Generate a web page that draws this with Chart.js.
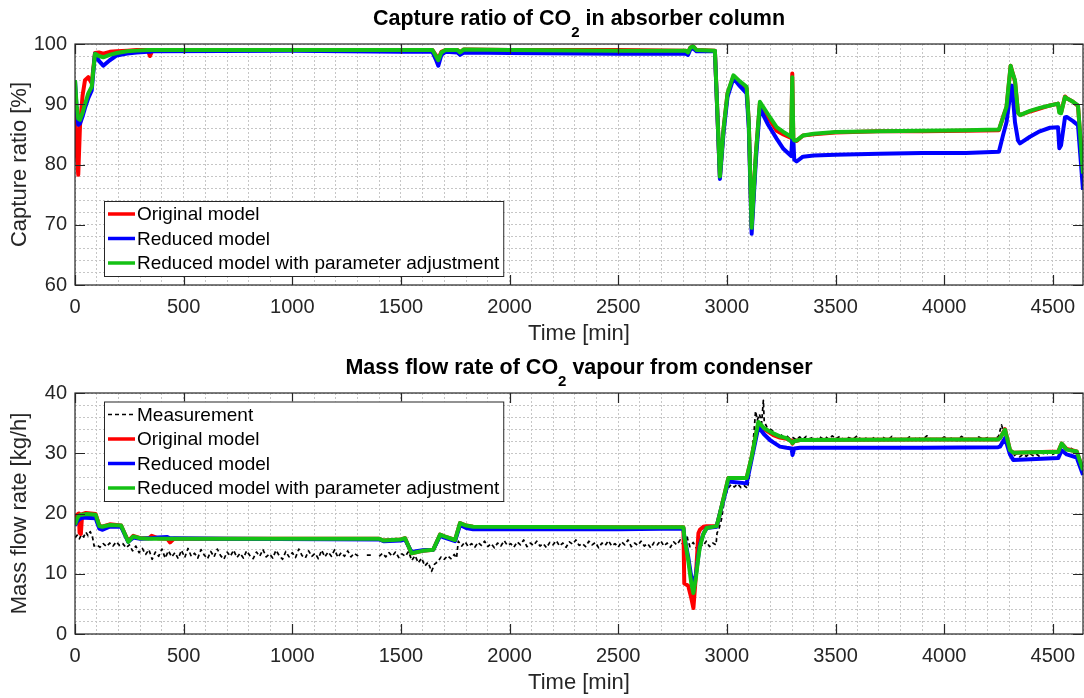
<!DOCTYPE html>
<html>
<head>
<meta charset="utf-8">
<title>CO2 capture plant: model comparison</title>
<script src="https://cdn.jsdelivr.net/npm/chart.js@4.4.1/dist/chart.umd.min.js"></script>
<style>
  body { margin: 0; background: #fff; }
  canvas { display: block; }
</style>
</head>
<body>
<canvas id="captureChart" width="1084" height="349"></canvas>
<canvas id="flowChart" width="1084" height="349"></canvas>
<script>
// ---- Capture ratio in absorber column [%] ----
const capTime = [0, 8, 15, 23, 35, 46, 61, 77, 92, 110, 130, 160, 192, 240, 284, 335, 345, 357,
  1000, 1500, 1645, 1660, 1672, 1686, 1705, 1760, 1772, 1790, 2000, 2500, 2810, 2821, 2832, 2845,
  2860, 2945, 2968, 2985, 3003, 3030, 3060, 3091, 3101, 3114, 3134, 3152, 3190, 3229, 3260, 3296,
  3301, 3306, 3310, 3321, 3350, 3400, 3500, 3700, 3900, 4100, 4252, 4272, 4287, 4306, 4312, 4326,
  4340, 4349, 4395, 4440, 4487, 4524, 4530, 4538, 4556, 4564, 4593, 4616, 4639];
const capOriginal = [90.0, 82.0, 78.3, 86.5, 91.5, 94.0, 94.5, 93.5, 98.5, 98.6, 98.4, 98.7, 98.8, 98.9, 99.0, 99.0, 98.0, 99.0,
  99.0, 99.0, 99.0, 98.2, 97.5, 98.7, 99.0, 99.0, 98.6, 99.1, 99.0, 99.0, 98.9, 98.6, 99.4, 99.6,
  99.0, 98.9, 78.0, 86.0, 91.8, 94.6, 93.6, 92.6, 87.0, 69.5, 82.0, 90.2, 87.8, 85.6, 85.0, 84.4,
  95.1, 84.3, 84.0, 83.9, 84.8, 85.0, 85.3, 85.5, 85.5, 85.6, 85.7, 88.0, 89.5, 96.4, 95.6, 93.8,
  88.6, 88.2, 88.8, 89.3, 89.8, 90.1, 88.8, 88.6, 91.3, 91.0, 90.4, 89.7, 78.6];
const capReduced = [94.0, 88.8, 86.6, 86.8, 88.0, 89.4, 91.0, 92.3, 98.4, 97.2, 96.4, 97.3, 98.1, 98.4, 98.6, 98.7, 98.7, 98.8,
  98.9, 98.7, 98.7, 97.5, 96.4, 98.2, 98.7, 98.6, 98.2, 98.6, 98.5, 98.4, 98.4, 98.2, 99.1, 99.3,
  98.8, 98.8, 77.6, 85.4, 91.2, 94.3, 93.0, 91.8, 86.0, 68.5, 81.0, 89.3, 86.6, 84.3, 82.6, 81.4,
  84.4, 84.2, 80.8, 80.5, 81.3, 81.5, 81.6, 81.8, 81.9, 81.9, 82.1, 85.0, 87.0, 92.2, 93.1, 87.0,
  84.0, 83.5, 84.6, 85.5, 86.1, 86.2, 82.7, 83.2, 87.8, 87.9, 87.2, 86.5, 75.8];
const capAdjusted = [94.0, 89.5, 87.6, 87.4, 88.6, 90.0, 91.8, 92.9, 98.4, 98.0, 97.8, 98.2, 98.5, 98.8, 98.9, 99.0, 99.0, 99.0,
  99.0, 99.0, 99.0, 98.1, 97.3, 98.6, 99.0, 99.0, 98.6, 99.1, 99.0, 98.9, 98.9, 98.6, 99.4, 99.6,
  99.0, 98.9, 78.0, 86.0, 91.8, 94.8, 93.8, 92.9, 87.0, 69.5, 82.0, 90.4, 88.3, 86.2, 85.4, 84.6,
  94.5, 84.3, 84.0, 84.0, 84.8, 85.1, 85.4, 85.5, 85.6, 85.7, 85.8, 87.9, 89.6, 96.4, 95.5, 94.0,
  88.6, 88.2, 88.9, 89.4, 89.8, 90.1, 88.6, 88.5, 91.2, 91.0, 90.4, 89.8, 78.5];

// ---- Mass flow rate of CO2 vapour from condenser [kg/h] ----
const flowTime = [0, 10, 18, 21, 27, 33, 50, 95, 112, 125, 160, 212, 245, 268, 300, 340, 353, 380,
  425, 437, 455, 700, 1400, 1420, 1500, 1519, 1549, 1600, 1649, 1680, 1700, 1749, 1772, 1800, 1832,
  2500, 2800, 2804, 2822, 2836, 2846, 2858, 2869, 2876, 2892, 2907, 2953, 2968, 3007, 3091, 3114,
  3145, 3170, 3198, 3214, 3244, 3275, 3298, 3302, 3310, 3336, 3900, 4249, 4257, 4280, 4303, 4318,
  4450, 4525, 4541, 4564, 4610, 4639];
const flowOriginal = [18.3, 19.8, 20.0, 16.8, 16.6, 19.9, 20.1, 19.9, 18.0, 17.8, 18.2, 18.0, 15.4, 16.3, 15.9, 15.9, 16.3, 15.9,
  15.8, 15.2, 15.8, 15.8, 15.8, 15.5, 15.7, 15.9, 13.4, 13.8, 14.0, 16.5, 16.2, 15.6, 18.4, 18.0, 17.8,
  17.7, 17.7, 8.4, 8.0, 6.0, 4.3, 10.0, 16.7, 17.3, 17.8, 17.9, 17.9, 20.0, 25.9, 25.9, 29.4,
  35.0, 34.0, 33.4, 33.0, 32.6, 32.4, 32.1, 31.6, 32.0, 32.2, 32.3, 32.3, 32.5, 34.0, 30.5, 30.1,
  30.2, 30.3, 31.6, 30.7, 30.3, 27.2];
const flowReduced = [18.0, 18.7, 19.0, 19.1, 19.2, 19.3, 19.3, 19.2, 17.5, 17.3, 17.8, 17.8, 15.3, 16.0, 15.8, 15.9, 15.9, 16.0,
  16.1, 15.9, 15.9, 15.8, 15.7, 15.4, 15.5, 15.7, 13.6, 13.9, 14.0, 16.3, 16.0, 15.4, 18.1, 17.6, 17.4,
  17.4, 17.5, 16.2, 12.8, 9.5, 7.9, 10.0, 13.0, 14.8, 16.6, 17.6, 17.8, 20.0, 25.3, 25.0, 29.0,
  34.4, 33.2, 32.2, 31.8, 31.1, 30.9, 30.8, 29.7, 30.8, 30.9, 30.9, 31.0, 31.1, 32.5, 29.8, 28.9,
  29.1, 29.2, 30.5, 29.8, 29.3, 26.4];
const flowAdjusted = [18.1, 19.2, 19.6, 19.7, 19.8, 19.8, 19.9, 19.8, 17.9, 17.8, 18.1, 18.0, 15.3, 16.2, 15.9, 15.8, 15.8, 15.8,
  15.8, 15.8, 15.8, 15.8, 15.8, 15.5, 15.7, 15.9, 13.4, 13.8, 14.0, 16.5, 16.2, 15.6, 18.4, 18.0, 17.8,
  17.7, 17.7, 16.2, 12.3, 8.5, 6.8, 9.5, 12.8, 14.5, 16.6, 17.6, 17.9, 20.0, 25.9, 25.9, 29.4,
  35.2, 34.2, 33.6, 33.3, 32.8, 32.5, 31.9, 31.7, 32.0, 32.2, 32.3, 32.3, 32.5, 33.9, 30.5, 30.1,
  30.2, 30.2, 31.6, 30.6, 30.3, 27.2];

// plant measurement (null = no data logged)
const measTime = [0, 10, 20, 30, 40, 50, 60, 70, 80, 88, 100, 115, 130, 145, 160, 175, 190, 205, 220, 235,
  250, 265, 280, 295, 310, 325, 340, 355, 370, 385, 400, 415, 430, 445, 460, 475, 490, 505, 520, 535,
  550, 565, 580, 595, 610, 625, 640, 655, 670, 685, 700, 715, 730, 745, 760, 775, 790, 805, 820, 835,
  850, 865, 880, 895, 910, 925, 940, 955, 970, 985, 1000, 1015, 1030, 1045, 1060, 1075, 1090, 1105, 1120, 1135,
  1150, 1165, 1180, 1195, 1210, 1225, 1240, 1255, 1270, 1285, 1300, 1312, 1320, 1343, 1372, 1380, 1400, 1415, 1430, 1445,
  1460, 1475, 1490, 1505, 1520, 1535, 1550, 1565, 1580, 1595, 1610, 1625, 1641, 1655, 1670, 1685, 1700, 1715, 1730, 1745,
  1756, 1764, 1780, 1795, 1810, 1825, 1840, 1855, 1870, 1885, 1900, 1915, 1930, 1945, 1960, 1975, 1990, 2005, 2020, 2035,
  2050, 2065, 2080, 2095, 2110, 2125, 2140, 2155, 2170, 2185, 2200, 2215, 2230, 2245, 2260, 2275, 2290, 2305, 2320, 2335,
  2350, 2365, 2380, 2395, 2410, 2425, 2440, 2455, 2470, 2485, 2500, 2515, 2530, 2545, 2560, 2575, 2590, 2605, 2620, 2635,
  2650, 2665, 2680, 2695, 2710, 2725, 2740, 2755, 2770, 2785, 2800, 2815, 2830, 2845, 2860, 2875, 2890, 2905, 2920, 2935,
  2950, 2955, 2962, 2975, 2990, 3005, 3020, 3035, 3050, 3065, 3080, 3095, 3105, 3115, 3125, 3132, 3140, 3150, 3160, 3168,
  3172, 3185, 3200, 3215, 3230, 3245, 3260, 3275, 3290, 3305, 3320, 3335, 3350, 3365, 3380, 3395, 3410, 3425, 3440, 3455,
  3470, 3485, 3500, 3520, 3540, 3560, 3580, 3600, 3620, 3640, 3660, 3680, 3700, 3720, 3740, 3760, 3780, 3800, 3820, 3840,
  3860, 3880, 3900, 3920, 3940, 3960, 3980, 4000, 4020, 4040, 4060, 4080, 4100, 4120, 4140, 4160, 4180, 4200, 4220, 4240,
  4250, 4264, 4275, 4290, 4303, 4318, 4333, 4348, 4363, 4378, 4393, 4408, 4423, 4438, 4453, 4468, 4483, 4498, 4513, 4528,
  4541, 4555, 4570, 4585, 4600, 4615, 4630, 4639];
const measFlow = [16.0, 16.4, 15.8, 16.5, 16.1, 16.9, 16.3, 17.0, 16.2, 14.6, 14.8, 14.4, 15.0, 14.5, 15.1, 14.6, 15.3, 14.7, 15.0, 14.3,
  14.8, 13.8, 14.6, 13.5, 14.2, 13.2, 14.0, 12.4, 13.6, 12.9, 14.1, 12.6, 13.8, 12.8, 13.5, 12.5, 13.9, 12.7, 14.2, 12.9,
  13.4, 12.6, 14.0, 13.1, 12.5, 13.7, 12.8, 14.1, 13.0, 12.4, 13.6, 12.9, 13.9, 12.7, 13.4, 12.6, 13.8, 13.0, 12.5, 13.6,
  12.9, 14.0, 12.8, 13.3, 12.6, 13.9, 13.0, 12.4, 13.7, 12.8, 13.5, 12.7, 14.1, 13.0, 12.6, 13.8, 12.9, 13.4, 12.5, 13.9,
  12.8, 13.6, 12.9, 14.0, 12.7, 13.5, 12.9, 13.8, 12.8, 13.4, 13.0, 13.3, null, 13.1, 13.1, null, 12.9, 13.4, 12.8, 13.5,
  12.9, 13.6, 12.7, 13.3, 12.9, 13.7, 12.2, 13.0, 11.8, 12.6, 11.3, 11.9, 10.4, 11.6, 12.0, 12.8, 12.4, 13.0, 12.5, 13.2,
  12.6, 15.4, 14.6, 15.3, 14.5, 15.0, 14.4, 15.2, 14.7, 15.4, 14.5, 15.0, 14.3, 15.1, 14.6, 15.5, 14.7, 15.0, 14.4, 15.3,
  14.8, 15.6, 14.5, 15.1, 14.7, 15.4, 14.6, 15.0, 14.3, 15.2, 14.8, 15.5, 14.6, 15.1, 14.4, 15.3, 14.9, 15.6, 14.7, 15.0,
  14.5, 15.4, 14.8, 15.2, 14.3, 15.1, 14.7, 15.5, 14.6, 15.0, 14.4, 15.3, 14.8, 15.6, 14.5, 15.1, 14.7, 15.4, 14.6, 15.0,
  14.3, 15.2, 14.8, 15.5, 14.6, 15.1, 14.4, 15.3, 14.8, 15.6, 14.7, 16.3, 14.5, 15.2, 14.2, 15.0, 14.6, 15.4, 14.5, 15.1,
  14.8, 16.8, 17.2, 19.0, 22.5, 24.2, 24.8, 24.4, 24.9, 24.3, 24.6, 24.2, 26.5, 30.0, 33.5, 37.0, 35.5, 36.5, 35.0, 38.8,
  35.2, 34.3, 34.0, 33.6, 33.0, 33.2, 32.7, 32.9, 32.4, 32.6, 32.2, 32.7, 32.3, 32.8, 32.4, 32.6, 32.2, 32.8, 32.4, 32.7,
  32.3, 32.9, 32.4, 32.8, 32.2, 32.6, 32.3, 32.9, 32.2, 32.5, 32.1, 32.7, 32.3, 32.6, 32.2, 32.8, 32.3, 32.5, 32.1, 32.7,
  32.3, 32.6, 32.2, 32.9, 32.3, 32.5, 32.2, 32.7, 32.3, 32.6, 32.1, 32.8, 32.3, 32.5, 32.2, 32.7, 32.3, 32.6, 32.2, 32.5,
  32.8, 34.7, 33.5, 33.0, 30.5, 29.5, 29.9, 29.4, 29.8, 29.5, 30.0, 29.6, 29.9, 29.5, 30.1, 29.7, 30.2, 29.8, 30.1, 30.4,
  31.7, 30.9, 30.5, 30.8, 30.3, 30.0, 28.5, 27.5];

const T_END = 4639;

const FONT = '"Liberation Sans", Arial, Helvetica, sans-serif';
const AXIS_COLOR = '#262626';
const GRID_COLOR = '#c6c6c6';
const RED = '#ff0000';
const BLUE = '#0000ff';
const GREEN = '#14c114';

const toPoints = (ts, vs) => ts.map((t, i) => ({x: t, y: vs[i]}));

// Axes box, inward major ticks, title with subscript and the boxed legend
function decorPlugin(cfg) {
  return {
    id: 'decor',
    afterDraw(chart) {
      const {ctx, chartArea: a, scales: {x, y}} = chart;
      ctx.save();

      ctx.strokeStyle = AXIS_COLOR;
      ctx.lineWidth = 1.2;
      ctx.strokeRect(a.left, a.top, a.right - a.left, a.bottom - a.top);
      ctx.beginPath();
      for (let v = 0; v <= x.max; v += 500) {
        const px = Math.round(x.getPixelForValue(v)) + 0.5;
        ctx.moveTo(px, a.bottom); ctx.lineTo(px, a.bottom - 10);
        ctx.moveTo(px, a.top); ctx.lineTo(px, a.top + 10);
      }
      for (let v = y.min; v <= y.max; v += 10) {
        const py = Math.round(y.getPixelForValue(v)) + 0.5;
        ctx.moveTo(a.left, py); ctx.lineTo(a.left + 10, py);
        ctx.moveTo(a.right, py); ctx.lineTo(a.right - 10, py);
      }
      ctx.stroke();

      // title: "... CO" + subscript "2" + "..."
      const mainFont = 'bold 21.5px ' + FONT;
      const subFont = 'bold 15px ' + FONT;
      ctx.fillStyle = '#000';
      ctx.textBaseline = 'alphabetic';
      ctx.textAlign = 'left';
      let total = 0;
      cfg.title.forEach(([txt, sub]) => {
        ctx.font = sub ? subFont : mainFont;
        total += ctx.measureText(txt).width;
      });
      let tx = (a.left + a.right) / 2 - total / 2;
      cfg.title.forEach(([txt, sub]) => {
        ctx.font = sub ? subFont : mainFont;
        ctx.fillText(txt, tx, sub ? 36.5 : 25);
        tx += ctx.measureText(txt).width;
      });

      // legend
      const lg = cfg.legend;
      const sets = chart.data.datasets;
      ctx.font = '19px ' + FONT;
      const textX = lg.x + 33;
      const widest = Math.max(...sets.map(d => ctx.measureText(d.label).width));
      const w = textX - lg.x + widest + 4;
      const h = lg.pad * 2 + lg.gap * (sets.length - 1);
      ctx.fillStyle = '#fff';
      ctx.fillRect(lg.x, lg.y, w, h);
      ctx.strokeStyle = AXIS_COLOR;
      ctx.lineWidth = 1;
      ctx.strokeRect(lg.x + 0.5, lg.y + 0.5, w, h);
      ctx.textBaseline = 'middle';
      sets.forEach((d, i) => {
        const ry = lg.y + lg.pad + i * lg.gap;
        ctx.beginPath();
        ctx.setLineDash(d.borderDash || []);
        ctx.strokeStyle = d.borderColor;
        ctx.lineWidth = d.borderDash ? 1.7 : 3.5;
        ctx.moveTo(lg.x + 4, ry);
        ctx.lineTo(lg.x + 31, ry);
        ctx.stroke();
        ctx.setLineDash([]);
        ctx.fillStyle = '#000';
        ctx.fillText(d.label, textX, ry + 1);
      });

      ctx.restore();
    }
  };
}

function buildOptions(yMin, yMax, yTitle, xTitlePad) {
  const tickFont = {family: FONT, size: 20};
  const labelFont = {family: FONT, size: 22};
  return {
    responsive: false,
    animation: false,
    devicePixelRatio: 1,
    layout: {autoPadding: false, padding: {top: 44, right: 1, bottom: 0, left: 0}},
    elements: {
      line: {tension: 0, borderJoinStyle: 'round', fill: false},
      point: {radius: 0, hoverRadius: 0}
    },
    plugins: {legend: {display: false}, title: {display: false}, tooltip: {enabled: false}},
    events: [],
    scales: {
      x: {
        type: 'linear',
        min: 0,
        max: T_END,
        afterFit(s) {
          s.height = 64;
          s.paddingLeft = 0;
          s.paddingRight = 0;
        },
        grid: {color: GRID_COLOR, lineWidth: 1, drawTicks: false},
        border: {display: false, dash: [2, 2]},
        ticks: {
          stepSize: 100, autoSkip: false, maxRotation: 0, padding: 10,
          color: AXIS_COLOR, font: tickFont,
          callback: v => (v % 500 === 0 ? String(v) : '')
        },
        title: {display: true, text: 'Time [min]', color: AXIS_COLOR, font: labelFont,
          padding: {top: 0, bottom: xTitlePad}}
      },
      y: {
        type: 'linear',
        min: yMin,
        max: yMax,
        afterFit(s) { s.width = 75; },
        grid: {color: GRID_COLOR, lineWidth: 1, drawTicks: false},
        border: {display: false, dash: [2, 2]},
        ticks: {
          stepSize: 2, autoSkip: false, padding: 8,
          color: AXIS_COLOR, font: tickFont,
          callback: v => (v % 10 === 0 ? String(v) : '')
        },
        title: {display: true, text: yTitle, color: AXIS_COLOR, font: labelFont,
          padding: {top: 7, bottom: 0}}
      }
    }
  };
}

new Chart(document.getElementById('captureChart'), {
  type: 'line',
  data: {
    datasets: [
      {label: 'Original model', data: toPoints(capTime, capOriginal), borderColor: RED, borderWidth: 4, order: 2},
      {label: 'Reduced model', data: toPoints(capTime, capReduced), borderColor: BLUE, borderWidth: 4, order: 1},
      {label: 'Reduced model with parameter adjustment', data: toPoints(capTime, capAdjusted), borderColor: GREEN, borderWidth: 4, order: 0}
    ]
  },
  options: buildOptions(60, 100, 'Capture ratio [%]', 2),
  plugins: [decorPlugin({
    title: [['Capture ratio of CO', false], ['2', true], [' in absorber column', false]],
    legend: {x: 104, y: 201, pad: 13, gap: 24.5}
  })]
});

new Chart(document.getElementById('flowChart'), {
  type: 'line',
  data: {
    datasets: [
      {label: 'Measurement', data: toPoints(measTime, measFlow), borderColor: '#000', borderWidth: 1.7,
        borderDash: [4, 3], spanGaps: false, order: 3},
      {label: 'Original model', data: toPoints(flowTime, flowOriginal), borderColor: RED, borderWidth: 4, order: 2},
      {label: 'Reduced model', data: toPoints(flowTime, flowReduced), borderColor: BLUE, borderWidth: 4, order: 1},
      {label: 'Reduced model with parameter adjustment', data: toPoints(flowTime, flowAdjusted), borderColor: GREEN, borderWidth: 4, order: 0}
    ]
  },
  options: buildOptions(0, 40, 'Mass flow rate [kg/h]', 2),
  plugins: [decorPlugin({
    title: [['Mass flow rate of CO', false], ['2', true], [' vapour from condenser', false]],
    legend: {x: 104, y: 52.5, pad: 13, gap: 24.5}
  })]
});
</script>
</body>
</html>
